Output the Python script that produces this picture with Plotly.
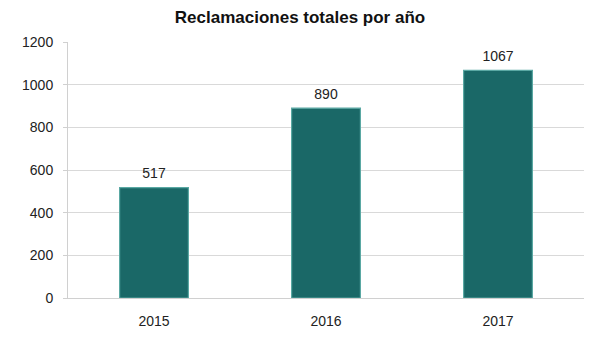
import plotly.graph_objects as go

years = ["2015", "2016", "2017"]
values = [517, 890, 1067]
y_ticks = [0, 200, 400, 600, 800, 1000, 1200]

fig = go.Figure()
fig.add_trace(go.Bar(
    x=years, y=values,
    marker=dict(color="#1a6867", line=dict(color="#5aa8a3", width=1.2)),
))
fig.add_trace(go.Scatter(
    x=years, y=values, mode="markers+text", text=[str(v) for v in values],
    textposition="top center", cliponaxis=False, hoverinfo="skip",
    marker=dict(size=8, opacity=0),
    textfont=dict(family="Liberation Sans, Arial", size=14, color="#222"),
))
fig.update_layout(
    width=600, height=343,
    margin=dict(l=68, r=16, t=42, b=45),
    paper_bgcolor="white", plot_bgcolor="white",
    bargap=0.6,
    showlegend=False,
    title=dict(text="<b>Reclamaciones totales por año</b>", x=0.5, xanchor="center",
               y=0.95, yanchor="middle",
               font=dict(family="Liberation Sans, Arial", size=17, color="#111")),
    font=dict(family="Liberation Sans, Arial", size=14, color="#222"),
)
fig.update_yaxes(range=[0, 1200], tickvals=y_ticks, showgrid=True, gridcolor="#d9d9d9",
                 showline=True, linecolor="#d0d0d0", ticks="outside", ticklen=11,
                 tickcolor="rgba(0,0,0,0)", zeroline=False,
                 minor=dict(tickvals=y_ticks, ticks="outside", ticklen=4,
                            tickcolor="#d0d0d0", showgrid=False))
fig.update_xaxes(type="category", showline=True, linecolor="#d0d0d0", ticks="outside",
                 ticklen=10, tickcolor="rgba(0,0,0,0)", showgrid=False)
fig.write_html("out.html")
